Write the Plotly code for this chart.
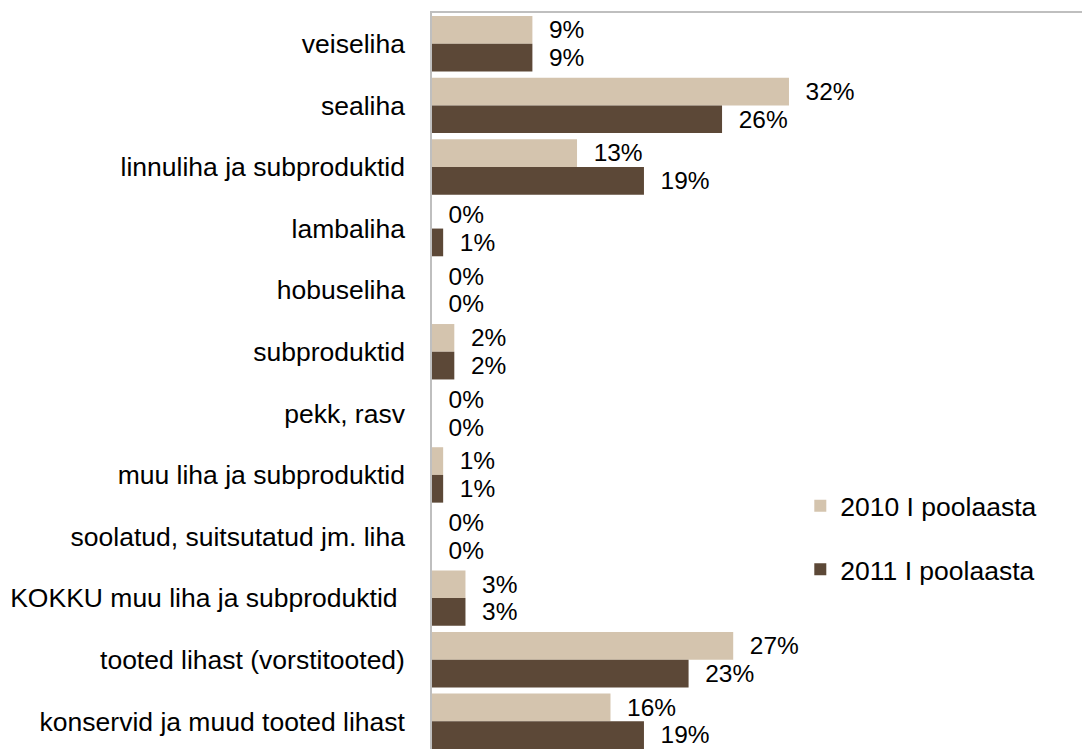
import plotly.graph_objects as go

# Meat import shares by product group, first half-year 2010 vs 2011 (%)
categories = [
    "veiseliha",
    "sealiha",
    "linnuliha ja subproduktid",
    "lambaliha",
    "hobuseliha",
    "subproduktid",
    "pekk, rasv",
    "muu liha ja subproduktid",
    "soolatud, suitsutatud jm. liha",
    "KOKKU muu liha ja subproduktid\u00a0",
    "tooted lihast (vorstitooted)",
    "konservid ja muud tooted lihast",
]
share_2010 = [9, 32, 13, 0, 0, 2, 0, 1, 0, 3, 27, 16]
share_2011 = [9, 26, 19, 1, 0, 2, 0, 1, 0, 3, 23, 19]
series_names = ["2010 I poolaasta", "2011 I poolaasta"]

LIGHT = "#D4C4AE"
DARK = "#5C4837"
FONT = "Liberation Sans, Arial, sans-serif"
FS = 26.5

fig = go.Figure()
for name, vals, color, grp in [
    (series_names[0], share_2010, LIGHT, "a"),
    (series_names[1], share_2011, DARK, "b"),
]:
    fig.add_trace(go.Bar(
        y=categories, x=vals, name=name, orientation="h",
        marker=dict(color=color, line=dict(width=0)),
        text=[f"\u00a0\u00a0{v}%" for v in vals],
        textposition="outside", cliponaxis=False,
        textfont=dict(size=FS, color="#000000", family=FONT),
        legendgroup=grp,
    ))

# the page body adds an 8px offset, so margins are trimmed by that amount
fig.update_layout(
    width=1090, height=749,
    margin=dict(l=424, r=0, t=5, b=0, autoexpand=False),
    barmode="group", bargap=0.1, bargroupgap=0,
    plot_bgcolor="white", paper_bgcolor="white",
    font=dict(family=FONT, size=FS, color="#000000"),
    showlegend=True,
    legend=dict(
        x=0.553, y=0.3696, xanchor="left", yanchor="top",
        traceorder="grouped", tracegroupgap=26,
        font=dict(size=FS, family=FONT, color="#000000"),
        itemwidth=30, bgcolor="rgba(0,0,0,0)",
    ),
)
fig.update_xaxes(
    range=[0, 59.7], side="top", showline=True, linecolor="#BFBFBF", linewidth=1.5,
    showgrid=False, zeroline=False, showticklabels=False, ticks="",
    automargin=False,
)
fig.update_yaxes(
    range=[11.58, -0.5], showline=True, linecolor="#BFBFBF", linewidth=1.5,
    showgrid=False, ticks="", ticklabelstandoff=20, automargin=False,
    tickfont=dict(size=FS, family=FONT, color="#000000"),
)

fig.write_html("out.html")
